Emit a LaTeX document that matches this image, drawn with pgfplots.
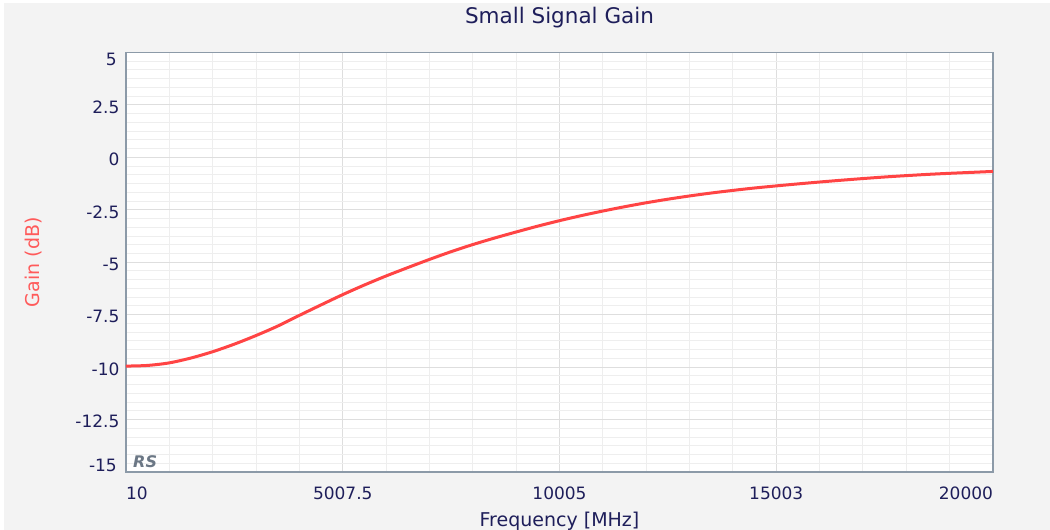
\documentclass[border=0pt]{standalone}
\usepackage{pgfplots}
\pgfplotsset{compat=1.18}
\usepackage{fontspec}
\setmainfont{DejaVu Sans}
\definecolor{bgc}{HTML}{F3F3F3}
\definecolor{txt}{HTML}{1E1E5A}
\definecolor{ylab}{HTML}{FF5A5A}
\definecolor{curve}{HTML}{FF4444}
\definecolor{frame}{HTML}{8C9AA8}
\definecolor{gmaj}{HTML}{DEDEDE}
\definecolor{gmin}{HTML}{EEEEEE}
\definecolor{rsc}{HTML}{6B7785}
\pgfplotstableread{
f g
10 -9.95
500 -9.92
1000 -9.80
1500 -9.57
2000 -9.27
2500 -8.91
3000 -8.50
3500 -8.05
4000 -7.54
4500 -7.04
5000 -6.55
5500 -6.09
6000 -5.66
6500 -5.26
7000 -4.87
7500 -4.50
8000 -4.16
8500 -3.85
9000 -3.56
9500 -3.28
10000 -3.02
10500 -2.78
11000 -2.56
11500 -2.355
12000 -2.165
12500 -1.995
13000 -1.84
13500 -1.70
14000 -1.575
14500 -1.46
15000 -1.36
15500 -1.265
16000 -1.175
16500 -1.09
17000 -1.01
17500 -0.935
18000 -0.87
18500 -0.81
19000 -0.76
19500 -0.715
20000 -0.67
}\gaindata
\begin{document}
\begin{tikzpicture}
\fill[white] (0pt,0pt) rectangle (1050pt,-530pt);
\fill[bgc] (4pt,-3pt) rectangle (1050pt,-530pt);
\useasboundingbox (0pt,0pt) rectangle (1050pt,-530pt);
\begin{axis}[
  at={(126pt,-472pt)}, anchor=south west,
  scale only axis, width=867pt, height=419.5pt,
  xmin=10, xmax=20000, ymin=-15, ymax=5,
  axis background/.style={fill=white},
  axis line style={draw=frame, line width=1.6pt},
  xtick={10,5007.5,10005,15002.5,20000},
  xticklabels={\makebox[0pt][l]{10},5007.5,10005,15003,\makebox[0pt][r]{20000}},
  ytick={5,2.5,0,-2.5,-5,-7.5,-10,-12.5,-15},
  yticklabels={,2.5,0,-2.5,-5,-7.5,-10,-12.5,},
  minor x tick num=4, minor y tick num=5,
  major tick length=0pt, minor tick length=0pt,
  grid=both,
  major grid style={draw=gmaj, line width=1.1pt},
  minor grid style={draw=gmin, line width=1pt},
  tick label style={font=\fontsize{17}{20}\selectfont, text=txt},
  xticklabel style={anchor=base, yshift=-27pt},
  yticklabel style={anchor=east, xshift=-3pt, yshift=-2pt},
  title={Small Signal Gain},
  title style={at={(axis description cs:0.5,1.056)}, anchor=base, font=\fontsize{21.5}{24}\selectfont, text=txt},
  xlabel={Frequency [MHz]},
  xlabel style={at={(axis description cs:0.5,-0.1304)}, anchor=base, font=\fontsize{19}{22}\selectfont, text=txt},
  ylabel={Gain (dB)},
  ylabel style={at={(axis description cs:-0.0992,0.5)}, anchor=base, rotate=0, font=\fontsize{19}{22}\selectfont, text=ylab},
  clip=false,
]
\addplot[curve, line width=3pt, smooth, tension=0.5] table[x=f, y=g] {\gaindata};
\node[anchor=east, text=txt, font=\fontsize{17}{20}\selectfont, inner sep=0pt] at (axis cs:10,5) [xshift=-9pt, yshift=-6.5pt] {5};
\node[anchor=east, text=txt, font=\fontsize{17}{20}\selectfont, inner sep=0pt] at (axis cs:10,-15) [xshift=-9pt, yshift=7pt] {-15};
\node[anchor=south west, text=rsc, font=\fontsize{16}{18}\selectfont\bfseries\itshape, inner sep=0pt] at (axis cs:10,-15) [xshift=7pt, yshift=4pt] {RS};
\end{axis}
\end{tikzpicture}
\end{document}
